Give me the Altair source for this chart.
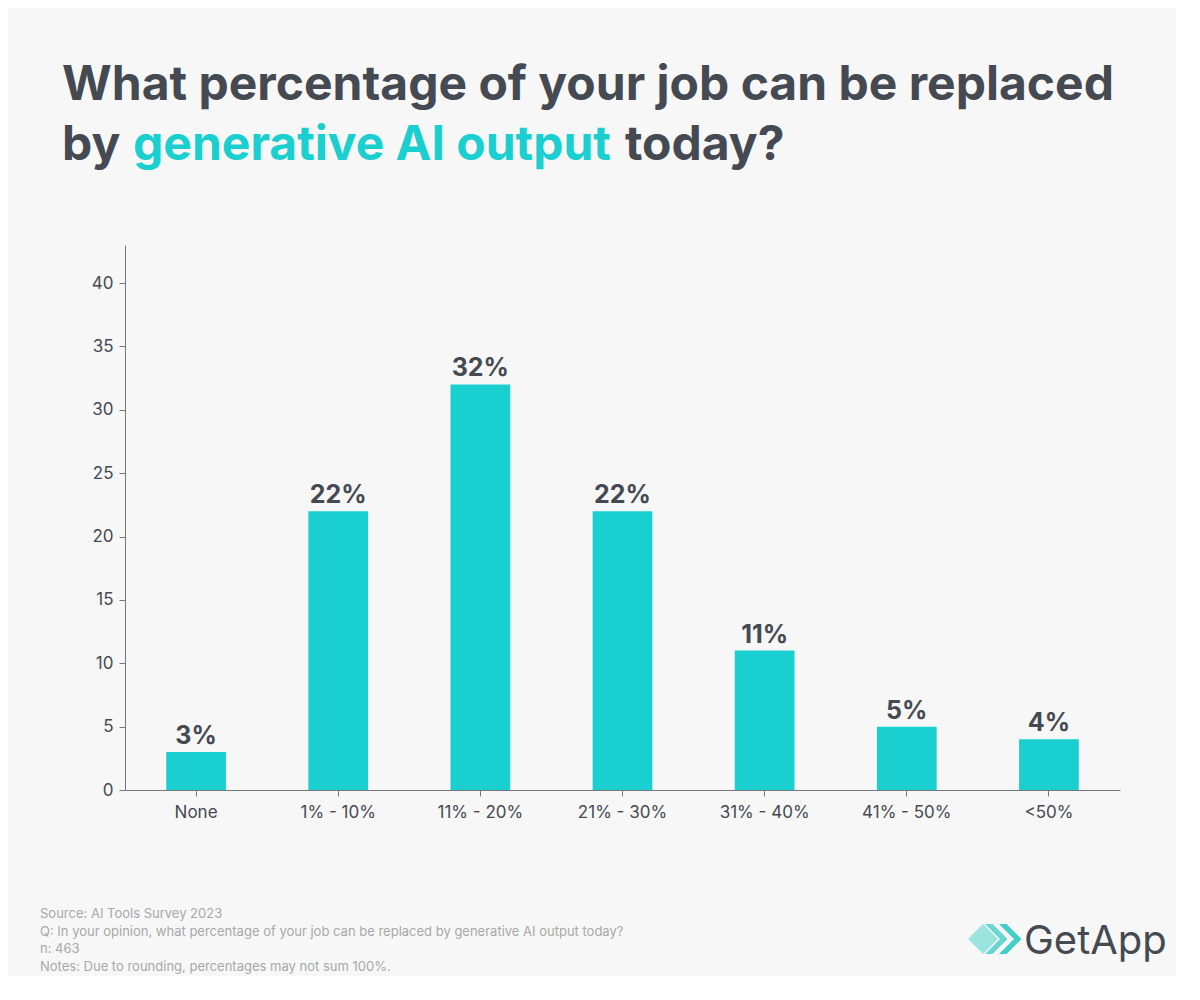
import altair as alt
import pandas as pd

categories = ["None", "1% - 10%", "11% - 20%", "21% - 30%", "31% - 40%", "41% - 50%", "<50%"]
values = [3, 22, 32, 22, 11, 5, 4]
y_ticks = [0, 5, 10, 15, 20, 25, 30, 35, 40]

title_line1 = "What percentage of your job can be replaced"
title_line2 = ["by", "generative AI output", "today?"]
footer_lines = [
    "Source: AI Tools Survey 2023",
    "Q: In your opinion, what percentage of your job can be replaced by generative AI output today?",
    "n: 463",
    "Notes: Due to rounding, percentages may not sum 100%.",
]

DARK = "#454a52"
CYAN = "#19cfd0"
FONT = "Inter"

df = pd.DataFrame({"cat": categories, "val": values})
df["label"] = df["val"].astype(str) + "%"

W, H = 995, 545
x_enc = alt.X("cat:N", sort=categories, title=None,
              scale=alt.Scale(paddingInner=0.58, paddingOuter=0.29),
              axis=alt.Axis(labelAngle=0, labelFontSize=17, labelColor=DARK, labelFont=FONT,
                            labelPadding=8, tickSize=6, tickColor="#777", domainColor="#777"))
y_enc = alt.Y("val:Q", title=None,
              scale=alt.Scale(domain=[0, 43], nice=False),
              axis=alt.Axis(values=y_ticks, grid=False, labelFontSize=17, labelColor=DARK,
                            labelFont=FONT, labelPadding=6, tickSize=6, tickColor="#777",
                            domainColor="#777"))

base = alt.Chart(df)
bars = base.mark_bar(color=CYAN).encode(x=x_enc, y=y_enc)
labels = base.mark_text(font=FONT, fontSize=25, fontWeight="bold", color=DARK, dy=-16).encode(
    x=alt.X("cat:N", sort=categories), y="val:Q", text="label:N")

def txt(text, x, y, size, color, weight="normal", align="left"):
    return alt.Chart(pd.DataFrame({"t": [text]})).mark_text(
        font=FONT, fontSize=size, fontWeight=weight, color=color, align=align, baseline="alphabetic"
    ).encode(x=alt.value(x), y=alt.value(y), text="t:N")

OX, OY = 125, 245  # plot origin on page (approx)
TS = 48
layers = [bars, labels]
layers.append(txt(title_line1, 62 - OX, 100 - OY, TS, DARK, "bold"))
layers.append(txt(title_line2[0], 62 - OX, 160 - OY, TS, DARK, "bold"))
layers.append(txt(title_line2[1], 133 - OX, 160 - OY, TS, CYAN, "bold"))
layers.append(txt(title_line2[2], 625 - OX, 160 - OY, TS, DARK, "bold"))
for i, line in enumerate(footer_lines):
    layers.append(txt(line, 40 - OX, 918 + 17.5 * i - OY, 13, "#a8a8a8"))
layers.append(txt("GetApp", 1024 - OX, 954 - OY, 40, DARK, "normal"))

for dx, op in [(983, 0.45), (1000, 0.7), (1014, 0.9)]:
    layers.append(alt.Chart(pd.DataFrame({"k": [0]})).mark_point(
        shape="M -0.5 -1 L 0.5 0 L -0.5 1 L -1 1 L 0 0 L -1 -1 Z" if dx != 983 else "diamond",
        filled=True, color="#2bc9c0", opacity=op, size=900, strokeWidth=0
    ).encode(x=alt.value(dx - OX), y=alt.value(939 - OY)))

chart = alt.layer(*layers).properties(
    width=W, height=H, background="#f7f7f7",
    padding={"left": OX - 8, "top": OY - 8, "right": 1200 - 8 - OX - W - 16, "bottom": 1000 - 8 - OY - H - 16},
    autosize=alt.AutoSizeParams(type="none"),
).configure_view(stroke=None)

chart.save("out.html", embed_options={"renderer": "svg", "actions": False})
